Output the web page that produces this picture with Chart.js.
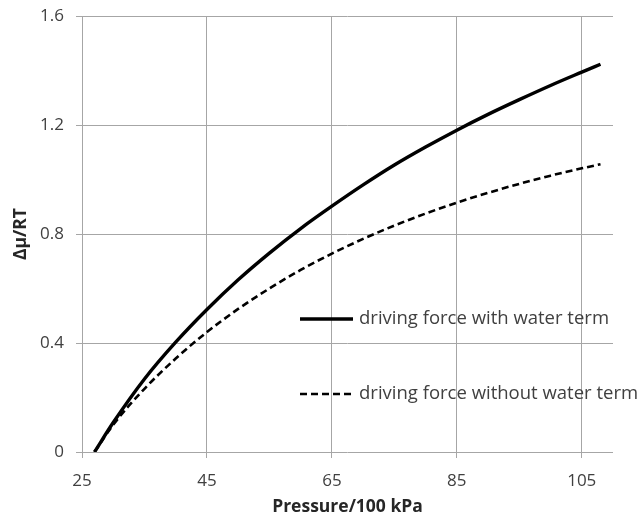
<!DOCTYPE html>
<html>
<head>
<meta charset="utf-8">
<script src="https://cdn.jsdelivr.net/npm/chart.js@4"></script>
<style>
  html, body { margin: 0; padding: 0; background: #fff; }
  #wrap { width: 638px; height: 524px; }
</style>
</head>
<body>
<div id="wrap"><canvas id="c" width="638" height="524"></canvas></div>
<script>
// pressure in units of 100 kPa
const PRESSURE = [27, 30, 35, 40, 45, 50, 55, 60, 65, 70, 75, 80, 85, 90, 95, 100, 105, 108];
// dimensionless driving force Δμ/RT
const WITH_WATER    = [0, 0.108, 0.268, 0.403, 0.523, 0.632, 0.73, 0.82, 0.902, 0.98, 1.053, 1.119, 1.181, 1.239, 1.293, 1.345, 1.394, 1.423];
const WITHOUT_WATER = [0, 0.10, 0.232, 0.343, 0.44, 0.525, 0.60, 0.668, 0.728, 0.782, 0.831, 0.875, 0.915, 0.951, 0.984, 1.014, 1.041, 1.056];

const SERIES_LABELS = ["driving force with water term", "driving force without water term"];
const X_TICKS = [25, 45, 65, 85, 105];
const Y_TICKS = [0, 0.4, 0.8, 1.2, 1.6];

const FONT = "'Open Sans', 'Liberation Sans', sans-serif";
const GRID = "#a6a6a6";
const TEXT = "#404040";

function pts(ys) {
  return PRESSURE.map((p, i) => ({ x: p, y: ys[i] }));
}

// legend drawn inside the plot: a short line sample followed by the label
const inlineLegend = {
  id: "inlineLegend",
  afterDraw(chart, args, opts) {
    const ctx = chart.ctx;
    ctx.save();
    ctx.font = opts.font;
    ctx.textBaseline = "middle";
    chart.data.datasets.forEach(function (ds, i) {
      const y = opts.rows[i];
      ctx.strokeStyle = ds.borderColor;
      ctx.lineWidth = ds.borderWidth;
      ctx.setLineDash(ds.borderDash || []);
      ctx.beginPath();
      ctx.moveTo(opts.x, y);
      ctx.lineTo(opts.x + opts.sample, y);
      ctx.stroke();
      ctx.fillStyle = TEXT;
      ctx.fillText(ds.label, opts.x + opts.sample + 6, y);
    });
    ctx.restore();
  },
};

new Chart(document.getElementById("c"), {
  type: "line",
  data: {
    datasets: [
      {
        label: SERIES_LABELS[0],
        data: pts(WITH_WATER),
        borderColor: "#000",
        borderWidth: 3.4,
        pointRadius: 0,
        cubicInterpolationMode: "monotone",
      },
      {
        label: SERIES_LABELS[1],
        data: pts(WITHOUT_WATER),
        borderColor: "#000",
        borderWidth: 2.6,
        borderDash: [7, 4],
        pointRadius: 0,
        cubicInterpolationMode: "monotone",
      },
    ],
  },
  options: {
    responsive: false,
    animation: false,
    layout: { padding: { top: 16, right: 25, left: 0, bottom: 0 } },
    scales: {
      x: {
        type: "linear",
        min: 25,
        max: 110,
        afterBuildTicks: axis => { axis.ticks = X_TICKS.map(v => ({ value: v })); },
        afterFit: s => { s.height = 72; },
        grid: { color: GRID, lineWidth: 1, tickLength: 6 },
        border: { display: false },
        ticks: { color: TEXT, font: { family: FONT, size: 17 }, padding: 13, maxRotation: 0 },
        title: {
          display: true,
          text: "Pressure/100 kPa",
          color: "#262626",
          font: { family: FONT, size: 17.5, weight: "bold" },
          padding: { top: 0, bottom: 6 },
        },
      },
      y: {
        min: 0,
        max: 1.6,
        afterBuildTicks: axis => { axis.ticks = Y_TICKS.map(v => ({ value: v })); },
        // fixed width; top label overflow must not push the plot down
        afterFit: s => { s.width = 82; s.paddingTop = 0; s.paddingBottom = 0; },
        grid: { color: GRID, lineWidth: 1, tickLength: 6 },
        border: { display: false },
        ticks: { color: TEXT, font: { family: FONT, size: 17 }, padding: 12 },
        title: {
          display: true,
          text: "Δμ/RT",
          color: "#262626",
          font: { family: FONT, size: 17.5, weight: "bold" },
          padding: { top: 11, bottom: 0 },
        },
      },
    },
    plugins: {
      legend: { display: false },
      tooltip: { enabled: false },
      inlineLegend: {
        x: 300,
        sample: 53,
        rows: [319, 394],
        font: "18.5px " + FONT,
      },
    },
  },
  plugins: [inlineLegend],
});
</script>
</body>
</html>
